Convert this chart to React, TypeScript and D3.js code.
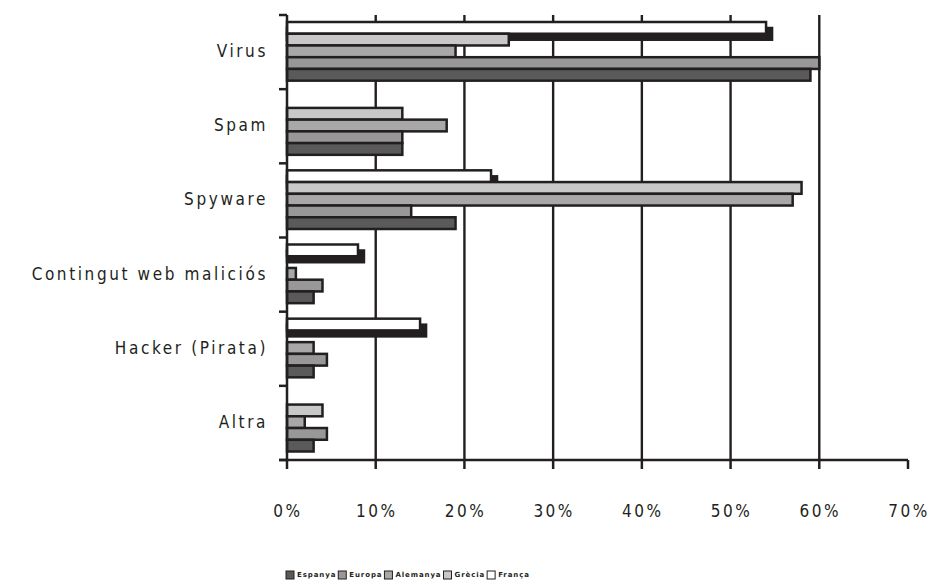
import { useEffect, useRef } from "react";
import * as d3 from "d3";

const categories = [
  "Virus",
  "Spam",
  "Spyware",
  "Contingut web maliciós",
  "Hacker (Pirata)",
  "Altra",
];
const seriesNames = ["Espanya", "Europa", "Alemanya", "Grècia", "França"];
const espanya = [59, 13, 19, 3, 3, 3];
const europa = [60, 13, 14, 4, 4.5, 4.5];
const alemanya = [19, 18, 57, 1, 3, 2];
const grecia = [25, 13, 58, 0, 0, 4];
const franca = [54, 0, 23, 8, 15, 0];
const xTicks = [0, 10, 20, 30, 40, 50, 60, 70];
const gridTicks = [10, 20, 30, 40, 50, 60];

const seriesValues = [espanya, europa, alemanya, grecia, franca];
const seriesColors = ["#5a5a5a", "#989898", "#a8a8a8", "#c8c8c8", "#ffffff"];
const INK = "#231f20";

export default function App() {
  const svgRef = useRef<SVGSVGElement>(null);
  const width = 932;
  const height = 587;

  useEffect(() => {
    if (!svgRef.current) return;
    const svg = d3.select(svgRef.current);
    svg.selectAll("*").remove();

    const left = 287;
    const right = 908;
    const top = 15;
    const bottom = 460;

    const x = d3.scaleLinear().domain([0, 70]).range([left, right]);
    const y = d3.scaleBand<string>().domain(categories).range([top, bottom]);
    const band = y.bandwidth();
    // top-down order inside each category
    const order = [4, 3, 2, 1, 0];
    const yInner = d3
      .scaleBand<number>()
      .domain(order)
      .range([7, band - 8.5]);
    const slot = yInner.bandwidth();

    // Grid lines
    gridTicks.forEach((t) => {
      svg
        .append("line")
        .attr("x1", x(t))
        .attr("x2", x(t))
        .attr("y1", top)
        .attr("y2", bottom)
        .attr("stroke", INK)
        .attr("stroke-width", 2.4);
    });

    // Bars
    categories.forEach((cat, ci) => {
      const g = svg.append("g").attr("transform", `translate(0,${y(cat)})`);
      const fr = franca[ci];
      if (fr > 0) {
        // black drop shadow behind the França bar
        g.append("rect")
          .attr("x", x(0))
          .attr("y", (yInner(4) as number) + 6)
          .attr("width", x(fr) - x(0) + 6)
          .attr("height", slot)
          .attr("fill", INK)
          .attr("stroke", INK)
          .attr("stroke-width", 2.5);
      }
      order.forEach((si) => {
        const v = seriesValues[si][ci];
        if (!v) return;
        g.append("rect")
          .attr("x", x(0))
          .attr("y", yInner(si) as number)
          .attr("width", x(v) - x(0))
          .attr("height", slot)
          .attr("fill", seriesColors[si])
          .attr("stroke", INK)
          .attr("stroke-width", 2.5);
      });
    });

    // Axes
    svg
      .append("line")
      .attr("x1", left)
      .attr("x2", left)
      .attr("y1", top)
      .attr("y2", bottom)
      .attr("stroke", INK)
      .attr("stroke-width", 2.5);
    svg
      .append("line")
      .attr("x1", left - 8)
      .attr("x2", right)
      .attr("y1", bottom)
      .attr("y2", bottom)
      .attr("stroke", INK)
      .attr("stroke-width", 2.5);

    const bounds = categories.map((c) => y(c) as number).concat([bottom]);
    bounds.forEach((b) => {
      svg
        .append("line")
        .attr("x1", left - 8)
        .attr("x2", left)
        .attr("y1", b)
        .attr("y2", b)
        .attr("stroke", INK)
        .attr("stroke-width", 2.5);
    });

    xTicks.forEach((t) => {
      svg
        .append("line")
        .attr("x1", x(t))
        .attr("x2", x(t))
        .attr("y1", bottom)
        .attr("y2", bottom + 9)
        .attr("stroke", INK)
        .attr("stroke-width", 2.5);
      svg
        .append("text")
        .attr("x", x(t) + 1)
        .attr("y", 517)
        .attr("text-anchor", "middle")
        .attr("font-family", "DejaVu Sans Condensed, DejaVu Sans, sans-serif")
        .attr("font-size", 17)
        .attr("letter-spacing", 2.5)
        .attr("fill", INK)
        .text(`${t}%`);
    });

    // Category labels
    categories.forEach((cat) => {
      svg
        .append("text")
        .attr("x", 268)
        .attr("y", (y(cat) as number) + band / 2 - 1)
        .attr("dy", "0.35em")
        .attr("text-anchor", "end")
        .attr("font-family", "DejaVu Sans Condensed, DejaVu Sans, sans-serif")
        .attr("font-size", 17)
        .attr("letter-spacing", 2.6)
        .attr("fill", INK)
        .text(cat);
    });

    // Legend
    const legend = svg.append("g").attr("transform", "translate(286,575)");
    let lx = 0;
    seriesNames.forEach((name, i) => {
      legend
        .append("rect")
        .attr("x", lx)
        .attr("y", -4)
        .attr("width", 8)
        .attr("height", 8)
        .attr("fill", seriesColors[i])
        .attr("stroke", INK)
        .attr("stroke-width", 1);
      const txt = legend
        .append("text")
        .attr("x", lx + 11)
        .attr("y", 0)
        .attr("dy", "0.35em")
        .attr("font-family", "DejaVu Sans, sans-serif")
        .attr("font-size", 7)
        .attr("font-weight", "bold")
        .attr("letter-spacing", 0.9)
        .attr("fill", INK)
        .text(name);
      const w = (txt.node() as SVGTextElement).getComputedTextLength();
      lx += 11 + w + 2;
    });
  }, []);

  return (
    <svg
      ref={svgRef}
      width={width}
      height={height}
      style={{ position: "absolute", left: 0, top: 0, background: "#fff" }}
    />
  );
}
